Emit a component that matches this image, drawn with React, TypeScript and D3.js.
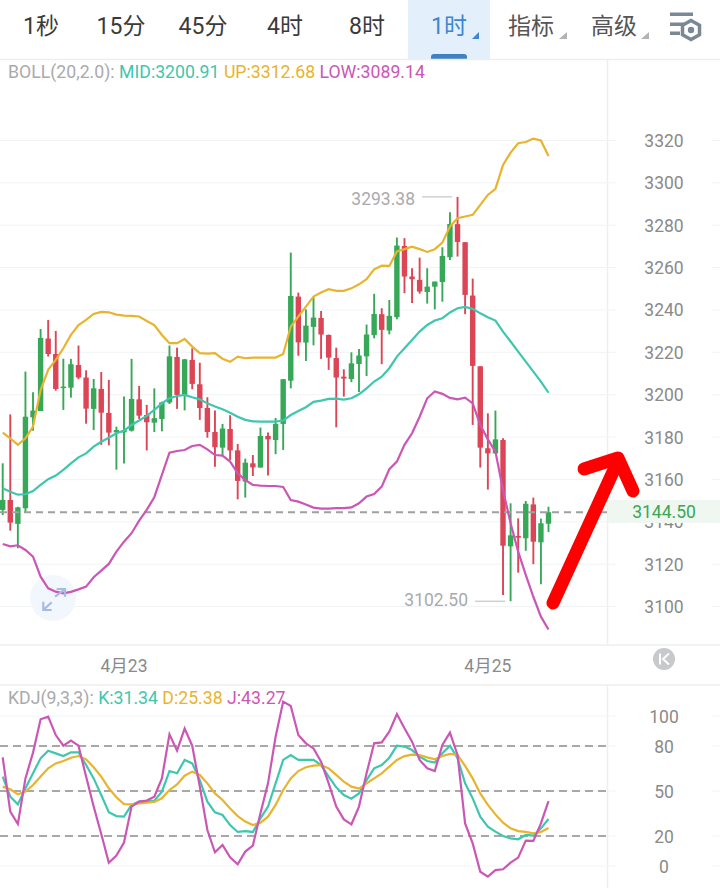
import React from "react";
import * as d3 from "d3";

const highs = [
  3167.6, 3190.7, 3147.1, 3210.9, 3201.1, 3231.0, 3235.3, 3230.1, 3217.0, 3216.9,
  3223.2, 3211.5, 3207.4, 3210.7, 3207.0, 3184.9, 3199.1, 3216.9, 3204.1, 3195.2,
  3203.0, 3196.7, 3223.2, 3222.2, 3216.9, 3221.9, 3215.1, 3198.8, 3192.5, 3186.2,
  3190.3, 3176.7, 3169.8, 3171.5, 3184.5, 3182.1, 3189.0, 3207.3, 3267.1, 3248.2,
  3240.3, 3246.0, 3239.5, 3228.4, 3222.2, 3212.0, 3220.0, 3221.6, 3233.1, 3247.6,
  3240.8, 3244.7, 3274.2, 3273.9, 3259.7, 3264.7, 3259.7, 3253.4, 3269.6, 3286.1,
  3293.38, 3272.0, 3254.8, 3213.4, 3191.2, 3192.5, 3179.4, 3148.7, 3141.6, 3149.8,
  3151.4, 3141.5, 3147.1,
];
const lows = [
  3143.2, 3135.8, 3127.5, 3144.5, 3183.0, 3192.3, 3218.0, 3201.9, 3192.8, 3198.6,
  3207.3, 3186.3, 3183.3, 3176.3, 3176.1, 3164.6, 3167.5, 3182.6, 3188.5, 3173.7,
  3182.4, 3182.7, 3195.6, 3193.3, 3192.6, 3202.6, 3188.1, 3179.7, 3166.0, 3171.4,
  3169.2, 3150.6, 3151.4, 3161.6, 3165.6, 3161.9, 3171.9, 3173.9, 3203.0, 3218.4,
  3215.9, 3223.3, 3216.9, 3211.7, 3184.6, 3199.1, 3205.9, 3201.3, 3208.8, 3226.6,
  3214.4, 3228.5, 3235.6, 3247.9, 3243.3, 3247.7, 3243.0, 3240.3, 3243.9, 3263.6,
  3265.2, 3238.0, 3185.7, 3165.6, 3155.2, 3172.0, 3105.4, 3102.5, 3116.0, 3126.3,
  3120.0, 3110.5, 3135.2,
];
const opens = [
  3145.6, 3150.3, 3139.0, 3146.4, 3189.3, 3192.3, 3226.5, 3219.2, 3203.2, 3203.3,
  3214.0, 3208.1, 3193.3, 3202.7, 3191.4, 3182.2, 3182.2, 3183.0, 3197.8, 3190.4,
  3186.8, 3188.5, 3196.3, 3217.8, 3199.4, 3216.4, 3204.9, 3193.7, 3182.4, 3175.0,
  3183.8, 3173.7, 3159.0, 3167.6, 3165.6, 3180.5, 3178.6, 3186.2, 3206.6, 3246.3,
  3224.6, 3232.0, 3236.2, 3228.2, 3217.3, 3208.5, 3207.4, 3214.5, 3218.1, 3228.1,
  3238.0, 3230.3, 3236.6, 3270.2, 3255.8, 3254.2, 3248.5, 3251.0, 3253.2, 3264.9,
  3280.5, 3272.0, 3246.8, 3213.4, 3174.7, 3172.3, 3178.6, 3128.4, 3133.3, 3132.2,
  3148.2, 3130.3, 3139.1,
];
const closes = [
  3150.3, 3139.6, 3146.8, 3189.6, 3192.5, 3226.8, 3219.2, 3202.7, 3203.8, 3214.4,
  3208.1, 3193.4, 3203.0, 3191.5, 3182.1, 3183.3, 3183.3, 3198.0, 3190.1, 3187.0,
  3188.9, 3196.4, 3218.1, 3199.9, 3216.7, 3205.1, 3193.7, 3182.4, 3175.2, 3184.0,
  3173.7, 3159.3, 3167.9, 3165.7, 3180.5, 3178.9, 3186.2, 3207.3, 3246.6, 3224.7,
  3232.6, 3236.4, 3228.4, 3217.5, 3208.1, 3207.6, 3214.8, 3218.5, 3228.4, 3238.1,
  3230.6, 3237.2, 3270.4, 3255.8, 3254.5, 3248.7, 3251.0, 3253.4, 3265.5, 3280.6,
  3272.1, 3247.1, 3213.6, 3175.0, 3172.3, 3178.9, 3128.7, 3133.6, 3132.5, 3148.5,
  3130.6, 3139.3, 3144.5,
];

const bollUp = [
  3182.1, 3179.4, 3176.3, 3179.4, 3184.9, 3202.2, 3211.7, 3216.4, 3221.9, 3228.2,
  3232.9, 3235.3, 3238.1, 3239.1, 3238.9, 3237.8, 3237.3, 3237.2, 3236.9, 3234.8,
  3232.9, 3228.2, 3224.3, 3224.3, 3226.3, 3222.7, 3219.6, 3219.4, 3219.6, 3217.0,
  3215.5, 3218.0, 3217.2, 3217.5, 3217.5, 3217.5, 3217.5, 3219.2, 3232.1, 3236.9,
  3241.6, 3246.3, 3248.2, 3249.8, 3249.0, 3249.0, 3250.2, 3252.1, 3254.5, 3259.2,
  3260.9, 3260.8, 3267.6, 3268.7, 3269.9, 3268.7, 3267.4, 3268.7, 3271.8, 3279.4,
  3283.3, 3284.1, 3284.9, 3289.6, 3294.3, 3297.2, 3308.5, 3314.3, 3318.7, 3319.3,
  3320.9, 3320.0, 3312.68,
];
const bollMid = [
  3155.8, 3154.2, 3152.8, 3153.0, 3154.5, 3157.4, 3160.1, 3161.8, 3164.5, 3167.6,
  3170.4, 3172.3, 3175.5, 3177.8, 3179.7, 3181.8, 3183.0, 3185.7, 3187.8, 3190.0,
  3192.8, 3195.9, 3198.3, 3199.4, 3199.9, 3198.8, 3197.8, 3195.9, 3194.4, 3193.1,
  3191.5, 3189.6, 3188.1, 3187.4, 3187.3, 3187.3, 3187.3, 3187.8, 3190.4, 3192.3,
  3194.1, 3196.6, 3197.2, 3198.0, 3198.1, 3197.7, 3198.3, 3200.2, 3203.0, 3206.2,
  3208.5, 3212.5, 3218.0, 3221.9, 3225.8, 3229.8, 3232.9, 3235.0, 3236.1, 3238.8,
  3240.8, 3241.4, 3240.5, 3238.4, 3236.6, 3235.0, 3229.8, 3225.1, 3220.3, 3215.6,
  3210.9, 3206.2, 3200.91,
];
const bollLow = [
  3129.5, 3128.4, 3128.9, 3126.7, 3123.5, 3114.1, 3108.6, 3107.0, 3106.2, 3106.9,
  3108.1, 3109.4, 3113.8, 3116.9, 3120.1, 3125.9, 3130.6, 3134.6, 3140.5, 3145.6,
  3151.6, 3162.1, 3172.6, 3173.4, 3173.9, 3175.8, 3176.3, 3174.2, 3171.5, 3171.2,
  3168.4, 3162.9, 3159.7, 3157.4, 3157.1, 3156.9, 3156.9, 3156.4, 3150.3, 3149.5,
  3148.2, 3146.7, 3146.2, 3146.2, 3146.4, 3146.4, 3146.8, 3148.7, 3151.9, 3153.1,
  3156.6, 3164.8, 3168.4, 3176.3, 3181.8, 3189.6, 3198.3, 3201.5, 3200.4, 3198.5,
  3197.8, 3198.6, 3195.9, 3185.7, 3178.9, 3173.1, 3155.0, 3139.3, 3125.9, 3114.9,
  3104.6, 3095.2, 3089.14,
];

const kdjK = [
  59.6, 46.2, 41.1, 51.8, 61.8, 71.8, 76.9, 75.1, 73.3, 75.8,
  75.8, 67.3, 58.4, 47.3, 35.8, 33.3, 32.9, 40.7, 42.9, 43.3,
  43.6, 49.6, 63.3, 61.8, 70.7, 68.4, 57.3, 42.9, 35.8, 34.0,
  27.3, 22.7, 23.3, 22.7, 31.8, 39.6, 55.1, 70.7, 74.0, 70.7,
  70.7, 70.7, 67.3, 59.6, 52.4, 47.3, 44.9, 48.4, 57.3, 65.1,
  67.3, 72.2, 80.2, 79.6, 77.3, 72.9, 70.0, 68.9, 75.1, 80.2,
  71.8, 55.1, 45.1, 32.9, 26.2, 22.9, 20.0, 18.4, 17.8, 20.7,
  20.2, 25.1, 31.34,
];
const kdjD = [
  52.9, 51.1, 47.8, 49.6, 54.0, 59.6, 65.1, 68.4, 70.0, 72.2,
  73.3, 71.1, 65.8, 59.6, 51.8, 45.8, 41.3, 41.1, 41.8, 42.2,
  42.7, 45.1, 50.7, 54.4, 60.2, 62.9, 60.7, 55.1, 48.4, 44.0,
  38.4, 33.3, 29.6, 27.3, 28.9, 32.9, 40.7, 50.7, 58.4, 63.3,
  65.8, 66.9, 67.3, 65.1, 60.7, 56.2, 52.9, 51.6, 55.1, 58.4,
  61.8, 66.2, 70.7, 73.3, 74.2, 74.0, 72.4, 71.1, 73.3, 74.7,
  74.0, 66.7, 58.4, 48.4, 40.7, 34.4, 28.9, 25.1, 23.3, 22.7,
  21.8, 22.7, 25.38,
];
const kdjJ = [
  72.4, 36.2, 28.0, 58.4, 75.6, 97.8, 99.6, 87.3, 80.2, 83.6,
  80.2, 59.6, 39.6, 21.3, 2.2, 6.9, 15.6, 39.6, 42.9, 43.6,
  46.2, 58.4, 87.8, 76.9, 91.6, 80.2, 52.9, 24.0, 9.1, 14.0,
  5.8, 1.1, 9.6, 13.6, 35.1, 55.1, 86.2, 109.6, 106.7, 87.3,
  81.8, 78.4, 69.6, 55.1, 39.6, 31.1, 27.8, 39.6, 61.8, 81.8,
  82.4, 89.6, 101.3, 91.8, 82.9, 70.7, 65.1, 63.3, 80.7, 88.9,
  74.0, 28.4, 15.1, -3.8, -7.1, -2.7, -2.2, 2.2, 5.6, 16.9,
  16.7, 28.4, 43.27,
];

const priceTicks = [3320, 3300, 3280, 3260, 3240, 3220, 3200, 3180, 3160, 3140, 3120, 3100];
const kdjTicks = [100, 80, 50, 20, 0];
const kdjDashed = [80, 50, 20];
const dateLabels = [
  { index: 16, label: "4月23" },
  { index: 64, label: "4月25" },
];
const tabs = [
  { label: "1秒", x: 41 },
  { label: "15分", x: 121 },
  { label: "45分", x: 203 },
  { label: "4时", x: 285 },
  { label: "8时", x: 367 },
];
const lastPrice = 3144.5;
const maxPrice = 3293.38;
const minPrice = 3102.5;

const GREEN = "#37a858";
const RED = "#dc4556";
const TEAL = "#3fc6ae";
const GOLD = "#e8b42e";
const PINK = "#cb57b4";
const GRID = "#f0f4f6";
const DIVIDER = "#eeeeee";
const LABEL = "#8a8a8a";
const FONT = "Roboto, 'Noto Sans CJK SC', sans-serif";

const x = d3.scaleLinear().domain([0, 72]).range([2.7, 548.5]);
const y = d3.scaleLinear().domain([3100, 3320]).range([606.5, 140.5]);
const yKdj = d3.scaleLinear().domain([0, 100]).range([866, 716]);

const priceLine = d3
  .line<number>()
  .x((_, i) => x(i))
  .y((d) => y(d));
const kdjLine = d3
  .line<number>()
  .x((_, i) => x(i))
  .y((d) => yKdj(d));

function GridRows({ values, scale }: { values: number[]; scale: d3.ScaleLinear<number, number> }) {
  return (
    <g stroke={GRID} strokeWidth={1}>
      {values.map((v) => (
        <g key={v}>
          <line x1={0} x2={616} y1={scale(v)} y2={scale(v)} />
          <line x1={712} x2={720} y1={scale(v)} y2={scale(v)} />
        </g>
      ))}
    </g>
  );
}

function Header() {
  return (
    <g fontFamily={FONT}>
      <rect x={408} y={0} width={82} height={59} fill="#e3effb" />
      <path d="M431,59 v-2 a3,3 0 0 1 3,-3 h30 a3,3 0 0 1 3,3 v2 z" fill="#3f82c4" />
      {tabs.map((t) => (
        <text key={t.label} x={t.x} y={34} fontSize={23} fill="#3a3a3a" textAnchor="middle">
          {t.label}
        </text>
      ))}
      <text x={449} y={34} fontSize={23} fill="#3d86d0" textAnchor="middle">1时</text>
      <path d="M479,32 v7 h-7 z" fill="#3d86d0" />
      <text x={531} y={34} fontSize={23} fill="#555" textAnchor="middle">指标</text>
      <path d="M567,32 v7 h-8 z" fill="#b3b3b3" />
      <text x={614} y={34} fontSize={23} fill="#555" textAnchor="middle">高级</text>
      <path d="M649,32 v7 h-8 z" fill="#b3b3b3" />
      <g fill="#7a8794">
        <rect x={670} y={12.5} width={23} height={3.5} />
        <rect x={670} y={22.5} width={14} height={3.5} />
        <rect x={670} y={31.5} width={10} height={3.5} />
      </g>
      <path
        d="M691,20.5 L699.5,25.2 V34.8 L691,39.5 L682.5,34.8 V25.2 Z"
        fill="#fff"
        stroke="#7a8794"
        strokeWidth={3.5}
      />
      <circle cx={691} cy={30} r={3.2} fill="#7a8794" />
    </g>
  );
}

function Candles() {
  return (
    <g>
      {closes.map((c, i) => {
        const color = c >= opens[i] ? GREEN : RED;
        const top = y(Math.max(c, opens[i]));
        const bottom = y(Math.min(c, opens[i]));
        return (
          <g key={i} fill={color} stroke={color}>
            <line x1={x(i)} x2={x(i)} y1={y(highs[i])} y2={y(lows[i])} strokeWidth={1.9} />
            <rect x={x(i) - 2.7} y={top} width={5.4} height={Math.max(bottom - top, 1.5)} stroke="none" />
          </g>
        );
      })}
    </g>
  );
}

export default function App() {
  return (
    <svg
      width={720}
      height={888}
      viewBox="0 0 720 888"
      style={{ position: "absolute", left: 0, top: 0, display: "block", background: "#fff" }}
    >
      <Header />

      {/* frame */}
      <g stroke={DIVIDER} strokeWidth={1.5}>
        <line x1={0} x2={720} y1={59.5} y2={59.5} />
        <line x1={0} x2={720} y1={645} y2={645} />
        <line x1={0} x2={720} y1={685} y2={685} />
        <line x1={607.5} x2={607.5} y1={59} y2={645} />
        <line x1={607.5} x2={607.5} y1={685} y2={888} />
      </g>

      <text x={8} y={78} fontFamily={FONT} fontSize={17.7}>
        <tspan fill="#aaa">BOLL(20,2.0): </tspan>
        <tspan fill={TEAL}>MID:3200.91 </tspan>
        <tspan fill={GOLD}>UP:3312.68 </tspan>
        <tspan fill={PINK}>LOW:3089.14</tspan>
      </text>

      {/* price panel */}
      <GridRows values={priceTicks} scale={y} />
      <g fontFamily={FONT} fontSize={17.5} fill={LABEL} textAnchor="middle">
        {priceTicks.map((t) => (
          <text key={t} x={664} y={y(t) + 6.5}>
            {t}
          </text>
        ))}
      </g>

      {/* zoom button */}
      <circle cx={53} cy={598} r={23} fill="#f2f6fd" />

      <Candles />

      <line
        x1={0}
        x2={607}
        y1={y(lastPrice)}
        y2={y(lastPrice)}
        stroke="#a0a0a0"
        strokeWidth={2}
        strokeDasharray="7 5"
      />

      <path d={priceLine(bollUp) ?? ""} fill="none" stroke={GOLD} strokeWidth={2.2} />
      <path d={priceLine(bollMid) ?? ""} fill="none" stroke={TEAL} strokeWidth={2.2} />
      <path d={priceLine(bollLow) ?? ""} fill="none" stroke={PINK} strokeWidth={2.2} />

      <g fill="none" stroke="#a6bbe4" strokeWidth={2.2}>
        <path d="M55,596.7 L65,589.3 M56.7,589 H65 V596.7" />
        <path d="M51.7,602.3 L43.3,610 M43.3,601.7 V610 H51.7" />
      </g>

      {/* high / low markers */}
      <g fontFamily={FONT} fontSize={17.5} fill="#aaa">
        <text x={415} y={y(maxPrice) + 8} textAnchor="end">{maxPrice.toFixed(2)}</text>
        <line x1={422} x2={452} y1={y(maxPrice)} y2={y(maxPrice)} stroke="#bbb" strokeWidth={1} />
        <text x={468} y={y(minPrice) + 5} textAnchor="end">{minPrice.toFixed(2)}</text>
        <line x1={475} x2={505} y1={y(minPrice)} y2={y(minPrice)} stroke="#bbb" strokeWidth={1} />
      </g>

      {/* last price tag */}
      <rect x={608} y={500} width={112} height={23} fill="#eff7f0" />
      <text x={664} y={y(lastPrice) + 6} fontFamily={FONT} fontSize={17.5} fill="#3aa757" textAnchor="middle">
        {lastPrice.toFixed(2)}
      </text>

      {/* date axis */}
      <g fontFamily={FONT} fontSize={17.5} fill={LABEL} textAnchor="middle">
        {dateLabels.map((d) => (
          <text key={d.label} x={x(d.index)} y={672}>
            {d.label}
          </text>
        ))}
      </g>
      <circle cx={664} cy={659} r={11} fill="#c8c9cc" />
      <path d="M660,653.5 V664.5 M669,653.5 L663,659 L669,664.5" fill="none" stroke="#fff" strokeWidth={2} />

      {/* KDJ panel */}
      <text x={8} y={704} fontFamily={FONT} fontSize={17.7}>
        <tspan fill="#aaa">KDJ(9,3,3): </tspan>
        <tspan fill={TEAL}>K:31.34 </tspan>
        <tspan fill={GOLD}>D:25.38 </tspan>
        <tspan fill={PINK}>J:43.27</tspan>
      </text>
      <GridRows values={kdjTicks} scale={yKdj} />
      <g stroke="#a8a8a8" strokeWidth={2} strokeDasharray="8 5">
        {kdjDashed.map((v) => (
          <line key={v} x1={0} x2={607} y1={yKdj(v)} y2={yKdj(v)} />
        ))}
      </g>
      <g fontFamily={FONT} fontSize={17.5} fill={LABEL} textAnchor="middle">
        {kdjTicks.map((t) => (
          <text key={t} x={664} y={yKdj(t) + 7}>
            {t}
          </text>
        ))}
      </g>
      <path d={kdjLine(kdjK) ?? ""} fill="none" stroke={TEAL} strokeWidth={2.2} />
      <path d={kdjLine(kdjD) ?? ""} fill="none" stroke={GOLD} strokeWidth={2.2} />
      <path d={kdjLine(kdjJ) ?? ""} fill="none" stroke={PINK} strokeWidth={2.2} />

      {/* hand drawn arrow */}
      <g fill="none" stroke="#ff0000" strokeWidth={13} strokeLinecap="round" strokeLinejoin="round">
        <path d="M553,603 L618,461" />
        <path d="M584,469 L618,458 L633,491" />
      </g>
    </svg>
  );
}
